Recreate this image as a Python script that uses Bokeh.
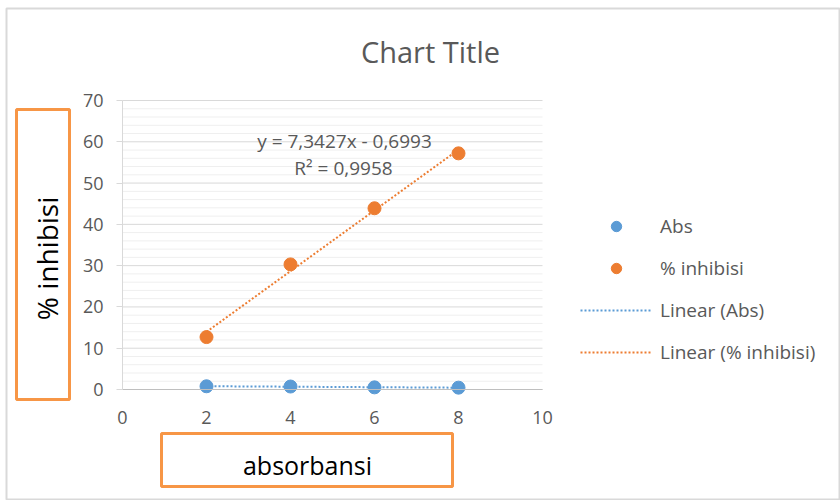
from bokeh.plotting import figure
from bokeh.models import (Range1d, Legend, LegendItem, Label, BoxAnnotation,
                          LinearAxis, FixedTicker)
from bokeh.embed import file_html
from bokeh.resources import INLINE
import numpy as np

# ---- data ----
x_vals = [2, 4, 6, 8]
abs_vals = [0.78, 0.72, 0.52, 0.45]
inhibisi_vals = [12.7, 30.3, 43.9, 57.2]
series_names = ["Abs", "% inhibisi", "Linear (Abs)", "Linear (% inhibisi)"]
x_ticks = [0, 2, 4, 6, 8, 10]
y_ticks = [0, 10, 20, 30, 40, 50, 60, 70]
y_minor_ticks = [v for v in range(0, 71, 2) if v % 10 != 0]
equation_text = "y = 7,3427x - 0,6993"
r2_text = "R\u00b2 = 0,9958"
title_text = "Chart Title"
x_label_text = "absorbansi"
y_label_text = "% inhibisi"

BLUE = "#5B9BD5"
ORANGE = "#ED7D31"
GRAY_TXT = "#595959"
BOX = "#F79646"
FONT = "Open Sans"

W, H = 840, 500
# plot-area placement on the page (pixels)
PL, PR, PT, PB = 122, 542, 100, 389
kx = (PR - PL) / (x_ticks[-1] - x_ticks[0])
ky = (PB - PT) / (y_ticks[-1] - y_ticks[0])

# page coordinates: x 0..W left->right, y 0..H top->bottom
p = figure(width=W, height=H, output_backend="svg", toolbar_location=None,
           x_range=Range1d(0, W), y_range=Range1d(H, 0),
           x_axis_location=None, y_axis_location=None,
           min_border=0, min_border_left=0, min_border_right=0,
           min_border_top=0, min_border_bottom=0)
p.outline_line_color = None
p.xgrid.visible = False
p.ygrid.visible = False
p.background_fill_color = "white"
p.border_fill_color = "white"

# data coordinates mapped onto the plot area
p.extra_x_ranges = {"d": Range1d(-PL / kx, (W - PL) / kx)}
p.extra_y_ranges = {"d": Range1d(-(H - PB) / ky, PB / ky)}

# outer chart border
p.add_layout(BoxAnnotation(left=6, right=839, top=8, bottom=499,
                           fill_alpha=0, line_color="#D9D9D9", line_alpha=1,
                           line_width=2))

# gridlines from the tick values
p.segment(x0=[x_ticks[0]] * len(y_minor_ticks), x1=[x_ticks[-1]] * len(y_minor_ticks),
          y0=y_minor_ticks, y1=y_minor_ticks, line_color="#EFEFEF", line_width=1,
          x_range_name="d", y_range_name="d")
p.segment(x0=[x_ticks[0]] * len(y_ticks), x1=[x_ticks[-1]] * len(y_ticks),
          y0=y_ticks, y1=y_ticks, line_color="#D9D9D9", line_width=1,
          x_range_name="d", y_range_name="d")

# axes
xaxis = LinearAxis(x_range_name="d", y_range_name="d", fixed_location=0,
                   bounds=(x_ticks[0], x_ticks[-1]), ticker=FixedTicker(ticks=x_ticks))
yaxis = LinearAxis(x_range_name="d", y_range_name="d", fixed_location=0,
                   bounds=(y_ticks[0], y_ticks[-1]), ticker=FixedTicker(ticks=y_ticks))
for ax in (xaxis, yaxis):
    ax.axis_line_color = "#D9D9D9"
    ax.major_tick_line_color = "#D9D9D9"
    ax.minor_tick_line_color = None
    ax.major_label_text_color = GRAY_TXT
    ax.major_label_text_font = FONT
    ax.major_label_text_font_size = "18px"
xaxis.axis_line_color = "#BFBFBF"
xaxis.major_tick_out = 0
xaxis.major_tick_in = 0
xaxis.major_label_standoff = 21
yaxis.major_tick_out = 6
yaxis.major_tick_in = 0
yaxis.major_label_standoff = 13
p.add_layout(xaxis, "below")
p.add_layout(yaxis, "left")

# trend lines (least squares fits of the data)
xs = np.array(x_vals, dtype=float)
ca = np.polyfit(xs, abs_vals, 1)
ci = np.polyfit(xs, inhibisi_vals, 1)
xt = np.array([min(x_vals), max(x_vals)], dtype=float)
r_la = p.line(xt, np.polyval(ca, xt), line_color=BLUE, line_width=2, line_dash="2 2",
              x_range_name="d", y_range_name="d")
r_li = p.line(xt, np.polyval(ci, xt), line_color=ORANGE, line_width=2, line_dash="2 2",
              x_range_name="d", y_range_name="d")

r_a = p.scatter(x_vals, abs_vals, size=13, fill_color=BLUE, line_color=BLUE,
                x_range_name="d", y_range_name="d")
r_i = p.scatter(x_vals, inhibisi_vals, size=13, fill_color=ORANGE, line_color=ORANGE,
                x_range_name="d", y_range_name="d")

# equation labels (page coordinates)
p.add_layout(Label(x=344, y=140, text=equation_text, text_align="center",
                   text_baseline="middle", text_font=FONT, text_font_size="19px",
                   text_color=GRAY_TXT))
p.add_layout(Label(x=343, y=167, text=r2_text, text_align="center",
                   text_baseline="middle", text_font=FONT, text_font_size="19px",
                   text_color=GRAY_TXT))

# legend (screen location from bottom-left of the page)
legend = Legend(items=[LegendItem(label=series_names[0], renderers=[r_a]),
                       LegendItem(label=series_names[1], renderers=[r_i]),
                       LegendItem(label=series_names[2], renderers=[r_la]),
                       LegendItem(label=series_names[3], renderers=[r_li])],
                location=(580, 135), glyph_width=72, glyph_height=26, spacing=16,
                padding=5, margin=0, label_standoff=8, label_height=26,
                label_text_font=FONT, label_text_font_size="19px",
                label_text_color=GRAY_TXT,
                border_line_color=None, background_fill_alpha=0)
p.add_layout(legend, "center")

# title
p.add_layout(Label(x=430, y=51, text=title_text, text_align="center",
                   text_baseline="middle", text_font=FONT, text_font_size="29px",
                   text_color=GRAY_TXT))

# orange boxes around axis titles
p.add_layout(BoxAnnotation(left=16, right=69, top=109, bottom=399,
                           fill_color="white", fill_alpha=1,
                           line_color=BOX, line_alpha=1, line_width=3))
p.add_layout(BoxAnnotation(left=161, right=452, top=433, bottom=486,
                           fill_color="white", fill_alpha=1,
                           line_color=BOX, line_alpha=1, line_width=3))
p.add_layout(Label(x=46, y=258, text=y_label_text, angle=90, angle_units="deg",
                   text_align="center", text_baseline="middle",
                   text_font=FONT, text_font_size="28px", text_color="black"))
p.add_layout(Label(x=307, y=464, text=x_label_text, text_align="center",
                   text_baseline="middle", text_font=FONT, text_font_size="25px",
                   text_color="black"))

open("out.html", "w").write(file_html(p, INLINE))
